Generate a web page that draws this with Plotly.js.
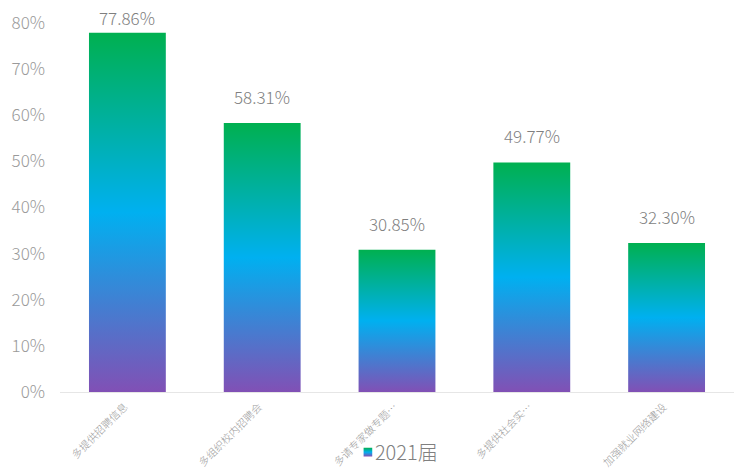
<!DOCTYPE html>
<html>
<head>
<meta charset="utf-8">
<script src="https://cdn.plot.ly/plotly-3.0.1.min.js"></script>
<style>html,body{margin:0;padding:0;background:#fff;}#chart{width:734px;height:472px;}</style>
</head>
<body>
<div id="chart"></div>
<script>
const categories = ['多提供招聘信息', '多组织校内招聘会', '多请专家做专题…', '多提供社会实…', '加强就业网络建设'];
const values = [77.86, 58.31, 30.85, 49.77, 32.30];
const seriesName = '2021届';
const yTickVals = [0, 10, 20, 30, 40, 50, 60, 70, 80];
const yTickText = ['0%', '10%', '20%', '30%', '40%', '50%', '60%', '70%', '80%'];

const fontFam = '"Noto Sans CJK SC", "Noto Sans", sans-serif';
const H = 472, mT = 23, mB = 80, yMax = 80;
const plotH = H - mT - mB;

const annotations = values.map(function(v, i) {
  const topPx = mT + (yMax - v) / yMax * plotH;
  const shift = Math.min(12, topPx - 22 - 10);
  return {
    x: categories[i], y: v, xref: 'x', yref: 'y', text: v.toFixed(2) + '%',
    showarrow: false, yanchor: 'bottom', yshift: shift,
    font: {family: fontFam, size: 17, color: '#7f7f7f', weight: 300}
  };
});

const trace = {
  type: 'bar',
  x: categories,
  y: values,
  name: seriesName,
  marker: {color: '#00b0f0', line: {width: 0}},
  hoverinfo: 'none'
};
const layout = {
  width: 734, height: H,
  margin: {l: 60, r: 0, t: mT, b: mB},
  paper_bgcolor: '#fff', plot_bgcolor: '#fff',
  bargap: 0.43,
  showlegend: true,
  annotations: annotations,
  legend: {orientation: 'h', x: 0.488, xanchor: 'center', y: -0.163, yanchor: 'middle',
    font: {family: fontFam, size: 20, color: '#808080', weight: 300}, bgcolor: 'rgba(0,0,0,0)', itemwidth: 30},
  xaxis: {
    tickangle: -45, showgrid: false, showline: true, linecolor: '#e6e6e6', linewidth: 1,
    ticks: '', tickfont: {family: fontFam, size: 10.5, color: '#999999', weight: 300}, zeroline: false,
    automargin: false
  },
  yaxis: {
    range: [0, yMax], tickvals: yTickVals, ticktext: yTickText, showgrid: false, zeroline: false,
    showline: false, ticks: '', tickfont: {family: fontFam, size: 17, color: '#9a9a9a', weight: 300},
    ticklabelstandoff: 14, automargin: false
  }
};
Plotly.newPlot('chart', [trace], layout, {staticPlot: true, displayModeBar: false}).then(function(gd) {
  const ns = 'http://www.w3.org/2000/svg';
  const svg = gd.querySelector('svg.main-svg');
  let defs = svg.querySelector('defs');
  if (!defs) { defs = document.createElementNS(ns, 'defs'); svg.insertBefore(defs, svg.firstChild); }
  const grad = document.createElementNS(ns, 'linearGradient');
  grad.setAttribute('id', 'barGrad');
  grad.setAttribute('x1', '0'); grad.setAttribute('y1', '1');
  grad.setAttribute('x2', '0'); grad.setAttribute('y2', '0');
  [['0', '#8150b5'], ['0.5', '#00b0f0'], ['1', '#00b050']].forEach(function(s) {
    const st = document.createElementNS(ns, 'stop');
    st.setAttribute('offset', s[0]); st.setAttribute('stop-color', s[1]);
    grad.appendChild(st);
  });
  defs.appendChild(grad);
  const bars = gd.querySelectorAll('.barlayer .point path');
  bars.forEach(function(p) { p.style.fill = 'url(#barGrad)'; });
  gd.querySelectorAll('.legend .legendpoints path').forEach(function(p) {
    p.style.fill = 'url(#barGrad)';
    p.setAttribute('transform', 'translate(33,0) scale(0.72)');
  });
  const base = gd.getBoundingClientRect();
  gd.querySelectorAll('.xtick').forEach(function(g, i) {
    const txt = g.querySelector('text');
    if (!txt || !bars[i]) return;
    const r = txt.getBoundingClientRect();
    const b = bars[i].getBoundingClientRect();
    const cx = (b.left + b.right) / 2 - base.left;
    const dx = cx + 3 - (r.right - base.left);
    const dy = 399 - (r.top - base.top);
    const t = g.getAttribute('transform') || '';
    g.setAttribute('transform', 'translate(' + dx.toFixed(1) + ',' + dy.toFixed(1) + ') ' + t);
  });
});
</script>
</body>
</html>
